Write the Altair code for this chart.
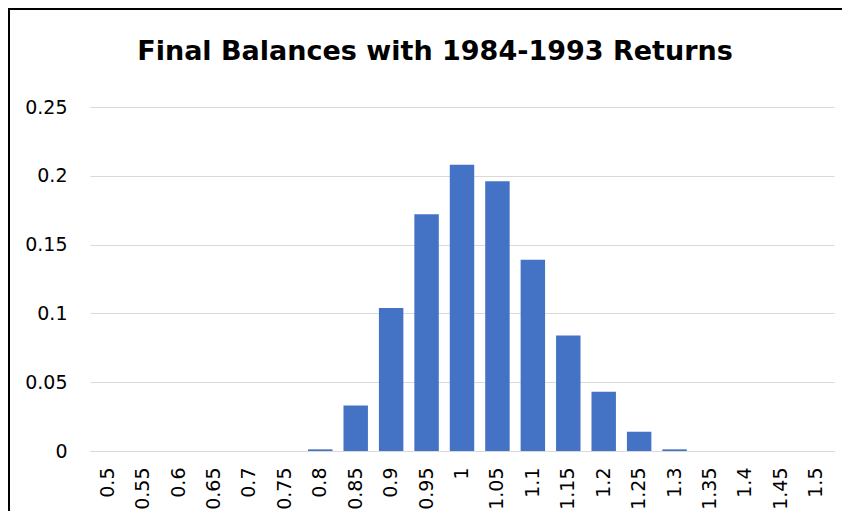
import altair as alt
import pandas as pd

categories = ["0.5", "0.55", "0.6", "0.65", "0.7", "0.75", "0.8", "0.85", "0.9", "0.95",
              "1", "1.05", "1.1", "1.15", "1.2", "1.25", "1.3", "1.35", "1.4", "1.45", "1.5"]
values = [0, 0, 0, 0, 0, 0, 0.0012, 0.033, 0.104, 0.172,
          0.208, 0.196, 0.139, 0.084, 0.043, 0.014, 0.0012, 0, 0, 0, 0]
y_ticks = [0, 0.05, 0.1, 0.15, 0.2, 0.25]

df = pd.DataFrame({"bin": categories, "share": values})

FONT = "DejaVu Sans"

bars = alt.Chart(df).mark_bar(color="#4472C4").encode(
    x=alt.X("bin:N", sort=categories, title=None,
            scale=alt.Scale(paddingInner=0.31, paddingOuter=0.155),
            axis=alt.Axis(labelAngle=270, labelAlign="right", labelBaseline="middle",
                          labelPadding=16, ticks=False, domainColor="#d9d9d9",
                          domainWidth=1, labelFontSize=19, labelColor="#000000",
                          labelFont=FONT, grid=False)),
    y=alt.Y("share:Q", title=None,
            scale=alt.Scale(domain=[0, 0.25]),
            axis=alt.Axis(values=y_ticks, ticks=False, domain=False, gridColor="#d9d9d9",
                          gridWidth=1, labelPadding=23, labelFontSize=19,
                          labelColor="#000000", labelFont=FONT,
                          labelExpr="format(datum.value, '~g')")),
)

border = alt.Chart(pd.DataFrame({"a": [0]})).mark_rect(
    fill=None, stroke="#000000", strokeWidth=2, clip=False
).encode(
    x=alt.value(-81), x2=alt.value(800), y=alt.value(-98), y2=alt.value(460)
)

chart = alt.layer(bars, border).properties(
    width=744, height=344,
    padding={"left": 82, "top": 99, "right": 8, "bottom": 60},
    autosize=alt.AutoSizeParams(type="none"),
    title=alt.TitleParams("Final Balances with 1984-1993 Returns", font=FONT,
                          fontSize=27, fontWeight="bold", color="#000000",
                          anchor="middle", offset=-79, baseline="alphabetic", dx=-27,
                          frame="group"),
).configure_view(stroke=None)

chart.save("out.html", embed_options={"renderer": "svg", "actions": False})
